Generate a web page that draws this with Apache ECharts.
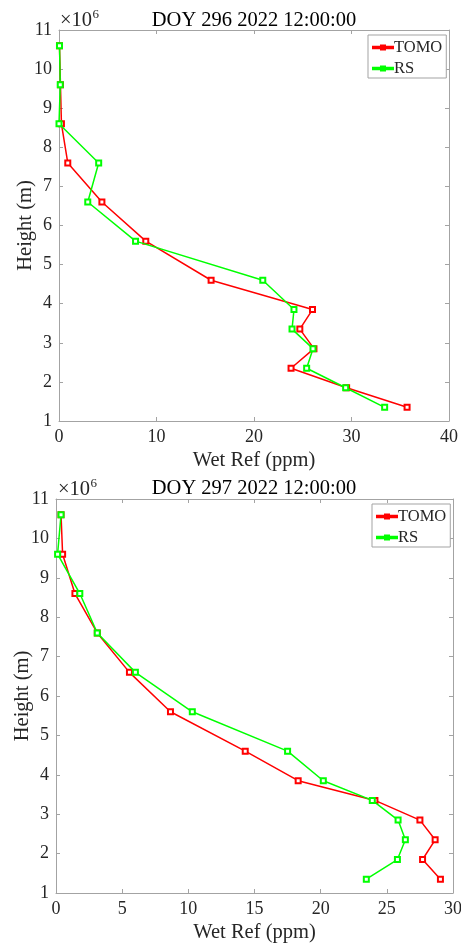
<!DOCTYPE html>
<html>
<head>
<meta charset="utf-8">
<script src="https://cdn.jsdelivr.net/npm/echarts@6/dist/echarts.min.js"></script>
<style>
  html, body { margin: 0; padding: 0; background: #fff; }
  #chart { width: 461px; height: 943px; }
</style>
</head>
<body>
<div id="chart"></div>
<script>
// Profile heights, in units of 10^6 m (the ×10^6 factor is drawn beside the axis)
const heights = [10.6, 9.6, 8.6, 7.6, 6.6, 5.6, 4.6, 3.85, 3.35, 2.85, 2.35, 1.85, 1.35];

// DOY 296: wet refractivity (ppm)
const tomo296 = [0.05, 0.15, 0.25, 0.9, 4.4, 8.9, 15.6, 26.0, 24.7, 26.15, 23.8, 29.5, 35.7];
const rs296   = [0.05, 0.13, 0.0, 4.07, 2.95, 7.85, 20.9, 24.1, 23.9, 26.05, 25.4, 29.4, 33.4];

// DOY 297: wet refractivity (ppm)
const tomo297 = [0.38, 0.5, 1.43, 3.12, 5.55, 8.65, 14.3, 18.3, 24.1, 27.5, 28.65, 27.7, 29.05];
const rs297   = [0.38, 0.12, 1.8, 3.12, 6.0, 10.3, 17.5, 20.2, 23.9, 25.85, 26.4, 25.8, 23.45];

const titles = ['DOY 296 2022 12:00:00', 'DOY 297 2022 12:00:00'];
const xMax = [40, 30];
const xStep = [10, 5];
const yTicks = [1, 11, 1]; // min, max, interval

const FONT = '"Liberation Serif", "Times New Roman", serif';
const AXIS_GRAY = '#a3a3a3';
const TEXT = '#262626';
const RED = '#ff0000';
const GREEN = '#00ff00';

// legend glyph: short line with a small square marker in the middle (20 x 4 box)
const LEGEND_ICON = 'path://M0,1.3L8,1.3L8,0L12,0L12,1.3L20,1.3L20,2.7L12,2.7L12,4L8,4L8,2.7L0,2.7Z';

const pairs = (xs) => xs.map((v, i) => [v, heights[i]]);

const grids = [
  { left: 59, top: 30, width: 390, height: 391, containLabel: false, outerBoundsMode: 'none' },
  { left: 56, top: 499, width: 397, height: 394, containLabel: false, outerBoundsMode: 'none' }
];

function mainX(i) {
  return {
    type: 'value', gridIndex: i, min: 0, max: xMax[i], interval: xStep[i],
    name: 'Wet Ref (ppm)', nameLocation: 'middle', nameGap: 29, nameMoveOverlap: false,
    nameTextStyle: { fontFamily: FONT, fontSize: 20.5, color: TEXT },
    axisLine: { show: true, lineStyle: { color: AXIS_GRAY, width: 1 } },
    axisTick: { show: true, inside: true, length: 4, lineStyle: { color: AXIS_GRAY } },
    axisLabel: { fontFamily: FONT, fontSize: 18, color: TEXT, margin: 7 },
    splitLine: { show: false }
  };
}
function boxX(i) {
  return {
    type: 'value', gridIndex: i, position: 'top', min: 0, max: xMax[i], interval: xStep[i],
    axisLine: { show: true, onZero: false, lineStyle: { color: AXIS_GRAY, width: 1 } },
    axisTick: { show: true, inside: true, length: 4, lineStyle: { color: AXIS_GRAY } },
    axisLabel: { show: false }, splitLine: { show: false }
  };
}
function mainY(i) {
  return {
    type: 'value', gridIndex: i, min: yTicks[0], max: yTicks[1], interval: yTicks[2],
    name: 'Height (m)', nameLocation: 'middle', nameGap: 23, nameRotate: 90, nameMoveOverlap: false,
    nameTextStyle: { fontFamily: FONT, fontSize: 20.5, color: TEXT },
    axisLine: { show: true, lineStyle: { color: AXIS_GRAY, width: 1 } },
    axisTick: { show: true, inside: true, length: 4, lineStyle: { color: AXIS_GRAY } },
    axisLabel: { fontFamily: FONT, fontSize: 18, color: TEXT, margin: 7 },
    splitLine: { show: false }
  };
}
function boxY(i) {
  return {
    type: 'value', gridIndex: i, position: 'right', min: yTicks[0], max: yTicks[1], interval: yTicks[2],
    axisLine: { show: true, onZero: false, lineStyle: { color: AXIS_GRAY, width: 1 } },
    axisTick: { show: true, inside: true, length: 4, lineStyle: { color: AXIS_GRAY } },
    axisLabel: { show: false }, splitLine: { show: false }
  };
}

function lineSeries(name, color, data, i) {
  return {
    type: 'line', name: name, xAxisIndex: i * 2, yAxisIndex: i * 2,
    data: pairs(data), symbol: 'emptyRect', symbolSize: 5, showSymbol: true,
    lineStyle: { color: color, width: 1.5 },
    itemStyle: { color: color, borderColor: color, borderWidth: 1.4 },
    animation: false, z: name === 'RS' ? 3 : 2
  };
}

function legend(left, top) {
  return {
    orient: 'vertical', left: left, top: top,
    data: [{ name: 'TOMO', icon: LEGEND_ICON }, { name: 'RS', icon: LEGEND_ICON }],
    itemWidth: 20, itemHeight: 4, itemGap: 4,
    padding: [4, 4, 1, 4],
    borderColor: AXIS_GRAY, borderWidth: 1, backgroundColor: '#fff',
    textStyle: { fontFamily: FONT, fontSize: 16.5, lineHeight: 16, color: TEXT, padding: [0, 0, 0, -4] }
  };
}

// "×10" with a superscript 6, placed above the top-left corner of each plot
function scaleLabel(x, y) {
  return [
    { type: 'text', x: x, y: y, silent: true,
      style: { text: '×10', font: '20.5px ' + FONT, fill: TEXT, verticalAlign: 'middle', align: 'left' } },
    { type: 'text', x: x + 32.5, y: y - 6.5, silent: true,
      style: { text: '6', font: '13px ' + FONT, fill: TEXT, verticalAlign: 'middle', align: 'left' } }
  ];
}

const chart = echarts.init(document.getElementById('chart'), null, { renderer: 'canvas' });
chart.setOption({
  backgroundColor: '#ffffff',
  animation: false,
  title: [
    { text: titles[0], left: 254, top: 10, padding: 0, textAlign: 'center',
      textStyle: { fontFamily: FONT, fontSize: 20.5, fontWeight: 'normal', color: '#000' } },
    { text: titles[1], left: 254, top: 478, padding: 0, textAlign: 'center',
      textStyle: { fontFamily: FONT, fontSize: 20.5, fontWeight: 'normal', color: '#000' } }
  ],
  grid: grids,
  xAxis: [mainX(0), boxX(0), mainX(1), boxX(1)],
  yAxis: [mainY(0), boxY(0), mainY(1), boxY(1)],
  legend: [legend(368, 35), legend(372, 504)],
  graphic: scaleLabel(60, 21).concat(scaleLabel(58, 490)),
  series: [
    lineSeries('TOMO', RED, tomo296, 0),
    lineSeries('RS', GREEN, rs296, 0),
    lineSeries('TOMO', RED, tomo297, 1),
    lineSeries('RS', GREEN, rs297, 1)
  ]
});
</script>
</body>
</html>
